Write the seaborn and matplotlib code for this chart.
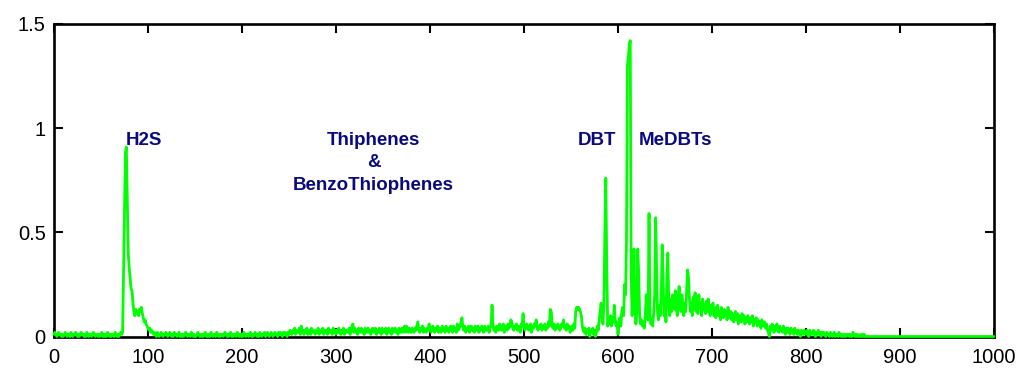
import matplotlib

matplotlib.use("Agg")
import matplotlib.pyplot as plt
import pandas as pd
import seaborn as sns

# Хроматограмма серы: сигнал по шагам 0..864, дальше ровный ноль до 1000
sig_000 = [.01, .02, .01, .00, .01, .02, .01, .01, .00, .01, .00, .01, .02, .01, .00, .01, .01, .00, .02, .01]
sig_020 = [.00, .01, .01, .02, .01, .00, .01, .00, .01, .02, .01, .01, .00, .01, .00, .02, .01, .00, .01, .01]
sig_040 = [.00, .01, .02, .01, .00, .01, .01, .00, .01, .00, .01, .02, .00, .01, .00, .01, .00, .02, .01, .00]
sig_060 = [.01, .00, .01, .01, .00, .02, .01, .00, .01, .00, .01, .02, .01, .02, .30, .60, .88, .91, .65, .40]
sig_080 = [.33, .28, .23, .22, .16, .12, .10, .13, .11, .12, .10, .13, .12, .14, .11, .09, .07, .08, .06, .05]
sig_100 = [.04, .03, .04, .02, .03, .02, .01, .02, .01, .00, .02, .01, .00, .01, .02, .01, .00, .01, .01, .02]
sig_120 = [.01, .00, .01, .02, .01, .00, .01, .00, .02, .01, .01, .00, .01, .02, .00, .01, .00, .01, .00, .01]
sig_140 = [.02, .01, .00, .01, .01, .00, .02, .01, .00, .01, .00, .00, .01, .02, .01, .00, .01, .00, .01, .00]
sig_160 = [.01, .02, .00, .01, .00, .01, .00, .02, .01, .00, .01, .01, .00, .02, .01, .00, .01, .00, .01, .01]
sig_180 = [.00, .01, .02, .01, .00, .01, .00, .01, .02, .00, .01, .00, .01, .01, .00, .02, .01, .00, .01, .00]
sig_200 = [.01, .00, .02, .01, .00, .01, .01, .00, .01, .02, .00, .01, .00, .01, .02, .01, .00, .01, .00, .02]
sig_220 = [.01, .00, .01, .01, .02, .00, .01, .02, .01, .00, .01, .02, .01, .00, .01, .02, .01, .01, .00, .02]
sig_240 = [.01, .02, .01, .00, .02, .01, .02, .01, .00, .02, .01, .03, .02, .01, .03, .02, .04, .01, .02, .03]
sig_260 = [.02, .04, .01, .05, .02, .03, .01, .03, .02, .04, .01, .02, .03, .01, .04, .02, .03, .02, .01, .03]
sig_280 = [.02, .04, .01, .03, .02, .02, .04, .01, .03, .02, .03, .01, .04, .02, .02, .03, .01, .04, .02, .03]
sig_300 = [.01, .03, .02, .04, .02, .01, .03, .02, .04, .01, .03, .02, .03, .02, .04, .01, .03, .05, .06, .02]
sig_320 = [.04, .02, .03, .01, .04, .03, .02, .04, .02, .03, .01, .04, .03, .02, .04, .02, .03, .01, .03, .04]
sig_340 = [.02, .03, .04, .01, .03, .02, .04, .03, .01, .04, .02, .03, .02, .04, .01, .03, .04, .02, .03, .01]
sig_360 = [.04, .02, .03, .04, .02, .03, .01, .04, .03, .02, .04, .02, .03, .05, .02, .05, .03, .02, .04, .03]
sig_380 = [.02, .04, .03, .02, .04, .03, .05, .07, .03, .02, .04, .03, .05, .02, .04, .03, .02, .04, .03, .06]
sig_400 = [.04, .02, .03, .05, .03, .02, .04, .03, .05, .02, .04, .03, .02, .05, .03, .04, .02, .05, .03, .04]
sig_420 = [.02, .04, .05, .03, .02, .05, .03, .04, .02, .06, .03, .04, .05, .07, .09, .04, .03, .05, .02, .04]
sig_440 = [.03, .05, .02, .04, .05, .03, .04, .02, .05, .03, .04, .05, .02, .04, .03, .05, .04, .02, .05, .03]
sig_460 = [.04, .03, .05, .02, .04, .05, .15, .06, .03, .04, .02, .05, .04, .03, .06, .05, .03, .04, .06, .02]
sig_480 = [.04, .05, .03, .06, .04, .05, .08, .07, .04, .03, .05, .04, .06, .03, .05, .04, .02, .06, .05, .11]
sig_500 = [.05, .03, .04, .06, .05, .03, .04, .06, .02, .05, .04, .06, .05, .08, .04, .03, .05, .04, .06, .03]
sig_520 = [.05, .04, .06, .03, .05, .04, .07, .05, .13, .12, .05, .04, .06, .03, .05, .04, .06, .05, .03, .04]
sig_540 = [.06, .05, .08, .04, .05, .03, .06, .04, .05, .02, .04, .05, .03, .06, .04, .12, .14, .13, .14, .13]
sig_560 = [.12, .10, .05, .03, .02, .04, .01, .03, .02, .04, .00, .03, .02, .04, .01, .03, .00, .02, .05, .03]
sig_580 = [.08, .12, .16, .10, .06, .15, .50, .76, .35, .05, .08, .06, .10, .05, .09, .07, .15, .08, .05, .07]
sig_600 = [.01, .06, .09, .05, .12, .14, .10, .25, .20, .45, 1.30, 1.34, 1.40, 1.42, .30, .10, .20, .42, .15, .06]
sig_620 = [.12, .42, .30, .10, .06, .08, .05, .07, .04, .10, .20, .12, .08, .59, .10, .06, .08, .05, .12, .20]
sig_640 = [.57, .35, .12, .08, .15, .10, .20, .44, .25, .10, .18, .07, .30, .40, .15, .10, .18, .12, .20, .15]
sig_660 = [.13, .22, .14, .10, .18, .24, .16, .12, .20, .14, .10, .16, .12, .22, .32, .28, .18, .12, .16, .10]
sig_680 = [.19, .13, .21, .12, .17, .11, .20, .14, .16, .10, .18, .13, .15, .11, .17, .12, .18, .14, .10, .15]
sig_700 = [.12, .16, .10, .14, .09, .13, .15, .10, .12, .08, .14, .11, .09, .13, .10, .12, .08, .14, .11, .09]
sig_720 = [.12, .08, .11, .07, .10, .12, .08, .11, .06, .10, .09, .07, .11, .08, .10, .06, .09, .07, .10, .08]
sig_740 = [.06, .09, .07, .10, .05, .08, .07, .09, .05, .08, .06, .07, .04, .08, .06, .05, .07, .04, .06, .03]
sig_760 = [.02, .00, .05, .03, .06, .04, .02, .05, .03, .06, .04, .02, .05, .03, .04, .02, .05, .03, .01, .04]
sig_780 = [.02, .04, .03, .01, .04, .02, .03, .01, .04, .02, .03, .01, .03, .02, .00, .03, .02, .01, .03, .02]
sig_800 = [.01, .03, .02, .00, .03, .01, .02, .01, .03, .02, .00, .02, .01, .03, .01, .02, .00, .02, .01, .02]
sig_820 = [.01, .00, .02, .01, .01, .00, .02, .01, .00, .01, .02, .00, .01, .01, .00, .02, .01, .00, .01, .00]
sig_840 = [.01, .00, .01, .00, .01, .01, .00, .01, .00, .00, .02, .01, .00, .01, .00, .01, .00, .00, .01, .00]
sig_860 = [.01, .00, .01, .00, .00]
tail_x = [1000]
tail_y = [0.0]

# Подписи пиков: текст, x, y
peak_labels = ["H2S", "Thiphenes\n&\nBenzoThiophenes", "DBT", "MeDBTs"]
label_x = [76.5, 340, 578, 661]
label_y = [0.94, 0.833, 0.94, 0.94]
label_ha = ["left", "center", "center", "center"]

x_ticks = [0, 100, 200, 300, 400, 500, 600, 700, 800, 900, 1000]
y_ticks = [0, 0.5, 1, 1.5]
y_ticklabels = ["0", "0.5", "1", "1.5"]

GREEN = "#00ff00"
NAVY = "#0a0a80"


def build_frame() -> pd.DataFrame:
    rows = [
        sig_000, sig_020, sig_040, sig_060, sig_080, sig_100, sig_120, sig_140,
        sig_160, sig_180, sig_200, sig_220, sig_240, sig_260, sig_280, sig_300,
        sig_320, sig_340, sig_360, sig_380, sig_400, sig_420, sig_440, sig_460,
        sig_480, sig_500, sig_520, sig_540, sig_560, sig_580, sig_600, sig_620,
        sig_640, sig_660, sig_680, sig_700, sig_720, sig_740, sig_760, sig_780,
        sig_800, sig_820, sig_840, sig_860,
    ]
    signal = [v for row in rows for v in row]
    assert len(signal) == 865, len(signal)
    x = list(range(len(signal))) + tail_x
    return pd.DataFrame({"time": x, "signal": signal + tail_y})


def main() -> None:
    sns.set_style("ticks")
    plt.rcParams["font.family"] = ["Liberation Sans", "DejaVu Sans"]

    df = build_frame()

    fig = plt.figure(figsize=(10.36, 3.77), dpi=100)
    ax = fig.add_axes([0.0521, 0.1074, 0.9074, 0.829])

    sns.lineplot(data=df, x="time", y="signal", ax=ax, color=GREEN,
                 linewidth=2.0, estimator=None, sort=False, zorder=5)
    for line in ax.get_lines():
        line.set_clip_on(False)

    ax.set_xlim(0, 1000)
    ax.set_ylim(0, 1.5)
    ax.set_xticks(x_ticks)
    ax.set_yticks(y_ticks)
    ax.set_yticklabels(y_ticklabels)
    ax.set_xlabel("")
    ax.set_ylabel("")

    for side in ["left", "right", "top", "bottom"]:
        ax.spines[side].set_visible(True)
        ax.spines[side].set_linewidth(1.9)
        ax.spines[side].set_color("black")
    ax.tick_params(axis="both", direction="in", length=6.5, width=1.5,
                   top=True, right=True, labelsize=14.5, colors="black")
    ax.tick_params(axis="x", pad=8)
    ax.tick_params(axis="y", pad=6)

    for text, x, y, ha in zip(peak_labels, label_x, label_y, label_ha):
        ax.text(x, y, text, ha=ha, va="center", multialignment="center",
                fontsize=13.5, fontweight="bold", color=NAVY, linespacing=1.4,
                zorder=6)

    fig.savefig("out.png", dpi=100)
    plt.close(fig)


if __name__ == "__main__":
    main()
